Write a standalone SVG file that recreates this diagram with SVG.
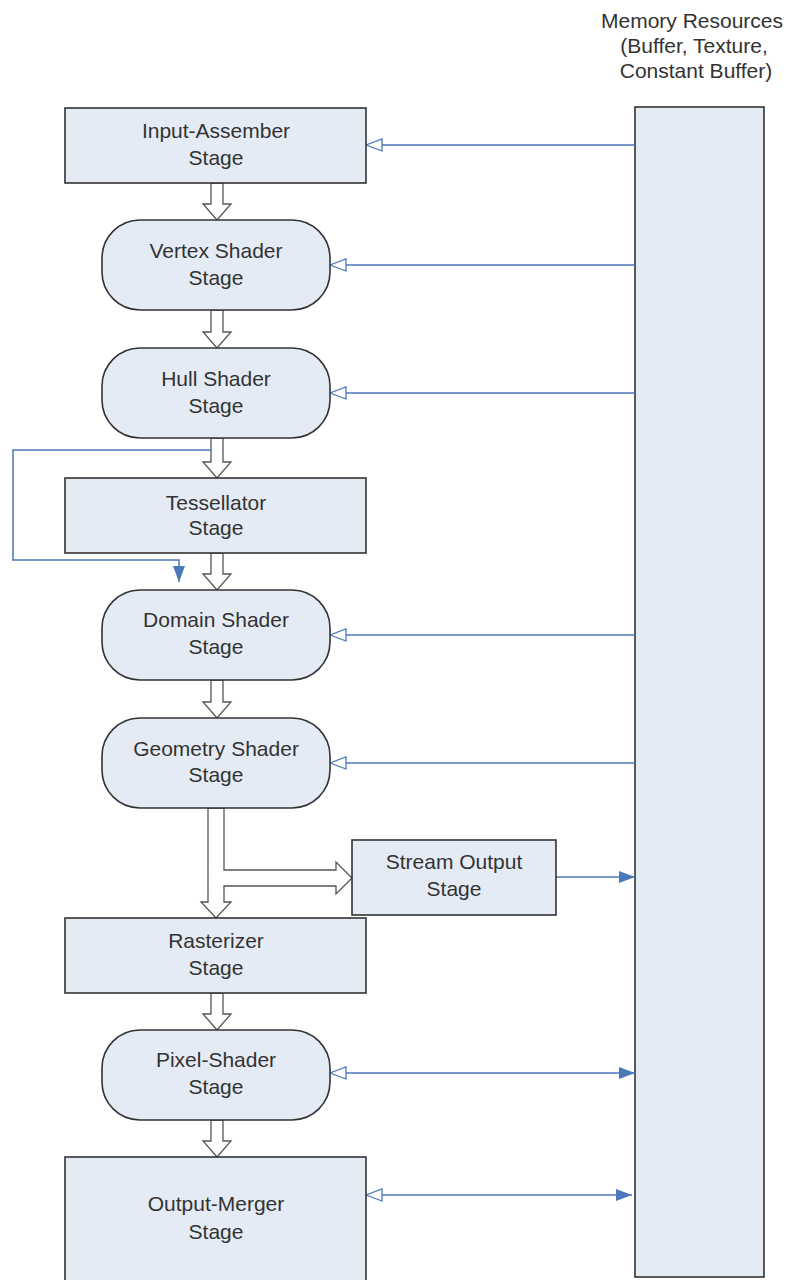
<svg xmlns="http://www.w3.org/2000/svg" width="787" height="1280" viewBox="0 0 787 1280">
<style>
.node{fill:#e5ebf5;stroke:#333;stroke-width:1.6}
.lbl{font-family:"Liberation Sans",Arial,sans-serif;font-size:21px;fill:#333;text-anchor:middle}
.flow{fill:#fff;stroke:#555;stroke-width:1.3}
.blue{fill:none;stroke:#4a78b8;stroke-width:1.5}
</style>
<defs>
<marker id="hollow" viewBox="0 0 18 14" refX="17" refY="7" markerWidth="18" markerHeight="14" markerUnits="userSpaceOnUse" orient="auto-start-reverse">
<path d="M1,1 L17,7 L1,13 Z" fill="#fff" stroke="#4a78b8" stroke-width="1.3"/>
</marker>
<marker id="filled" viewBox="0 0 16 12" refX="16" refY="6" markerWidth="16" markerHeight="12" markerUnits="userSpaceOnUse" orient="auto">
<path d="M0,0 L16,6 L0,12 Z" fill="#4a78b8"/>
</marker>
</defs>
<rect width="787" height="1280" fill="#fff"/>

<g id="memory">
<rect class="node" x="635" y="107" width="129" height="1170"/>
<text class="lbl" x="692" y="28">Memory Resources</text>
<text class="lbl" x="694" y="53">(Buffer, Texture,</text>
<text class="lbl" x="696" y="78">Constant Buffer)</text>
</g>

<g id="connectors">
<path class="flow" d="M211,183 V204 H203 L217,220 L231,204 H223 V183 Z"/>
<path class="flow" d="M211,310 V332 H203 L217,348 L231,332 H223 V310 Z"/>
<path class="flow" d="M211,438 V462 H203 L217,478 L231,462 H223 V438 Z"/>
<path class="flow" d="M211,553 V574 H203 L217,590 L231,574 H223 V553 Z"/>
<path class="flow" d="M211,680 V702 H203 L217,718 L231,702 H223 V680 Z"/>
<path class="flow" d="M208,808 V902 H201 L216,918 L231,902 H224 V886 H336 V894 L352,878 L336,862 V870 H224 V808 Z"/>
<path class="flow" d="M211,993 V1014 H203 L217,1030 L231,1014 H223 V993 Z"/>
<path class="flow" d="M211,1120 V1141 H203 L217,1157 L231,1141 H223 V1120 Z"/>

<path class="blue" d="M211,450 H13 V560 H179 V582" marker-end="url(#filled)"/>

<line class="blue" x1="635" y1="145" x2="366" y2="145" marker-end="url(#hollow)"/>
<line class="blue" x1="635" y1="265" x2="330" y2="265" marker-end="url(#hollow)"/>
<line class="blue" x1="635" y1="393" x2="330" y2="393" marker-end="url(#hollow)"/>
<line class="blue" x1="635" y1="635" x2="330" y2="635" marker-end="url(#hollow)"/>
<line class="blue" x1="635" y1="763" x2="330" y2="763" marker-end="url(#hollow)"/>
<line class="blue" x1="556" y1="877" x2="635" y2="877" marker-end="url(#filled)"/>
<line class="blue" x1="330" y1="1073" x2="635" y2="1073" marker-start="url(#hollow)" marker-end="url(#filled)"/>
<line class="blue" x1="366" y1="1195" x2="632" y2="1195" marker-start="url(#hollow)" marker-end="url(#filled)"/>
</g>

<g id="input-assembler">
<rect class="node" x="65" y="108" width="301" height="75"/>
<text class="lbl" x="216" y="138">Input-Assember</text>
<text class="lbl" x="216" y="165">Stage</text>
</g>
<g id="vertex-shader">
<rect class="node" x="102" y="220" width="228" height="90" rx="38" ry="38"/>
<text class="lbl" x="216" y="258">Vertex Shader</text>
<text class="lbl" x="216" y="285">Stage</text>
</g>
<g id="hull-shader">
<rect class="node" x="102" y="348" width="228" height="90" rx="38" ry="38"/>
<text class="lbl" x="216" y="386">Hull Shader</text>
<text class="lbl" x="216" y="413">Stage</text>
</g>
<g id="tessellator">
<rect class="node" x="65" y="478" width="301" height="75"/>
<text class="lbl" x="216" y="510">Tessellator</text>
<text class="lbl" x="216" y="535">Stage</text>
</g>
<g id="domain-shader">
<rect class="node" x="102" y="590" width="228" height="90" rx="38" ry="38"/>
<text class="lbl" x="216" y="627">Domain Shader</text>
<text class="lbl" x="216" y="654">Stage</text>
</g>
<g id="geometry-shader">
<rect class="node" x="102" y="718" width="228" height="90" rx="38" ry="38"/>
<text class="lbl" x="216" y="756">Geometry Shader</text>
<text class="lbl" x="216" y="782">Stage</text>
</g>
<g id="stream-output">
<rect class="node" x="352" y="840" width="204" height="75"/>
<text class="lbl" x="454" y="869">Stream Output</text>
<text class="lbl" x="454" y="896">Stage</text>
</g>
<g id="rasterizer">
<rect class="node" x="65" y="918" width="301" height="75"/>
<text class="lbl" x="216" y="948">Rasterizer</text>
<text class="lbl" x="216" y="975">Stage</text>
</g>
<g id="pixel-shader">
<rect class="node" x="102" y="1030" width="228" height="90" rx="38" ry="38"/>
<text class="lbl" x="216" y="1067">Pixel-Shader</text>
<text class="lbl" x="216" y="1094">Stage</text>
</g>
<g id="output-merger">
<rect class="node" x="65" y="1157" width="301" height="130"/>
<text class="lbl" x="216" y="1211">Output-Merger</text>
<text class="lbl" x="216" y="1239">Stage</text>
</g>
</svg>
